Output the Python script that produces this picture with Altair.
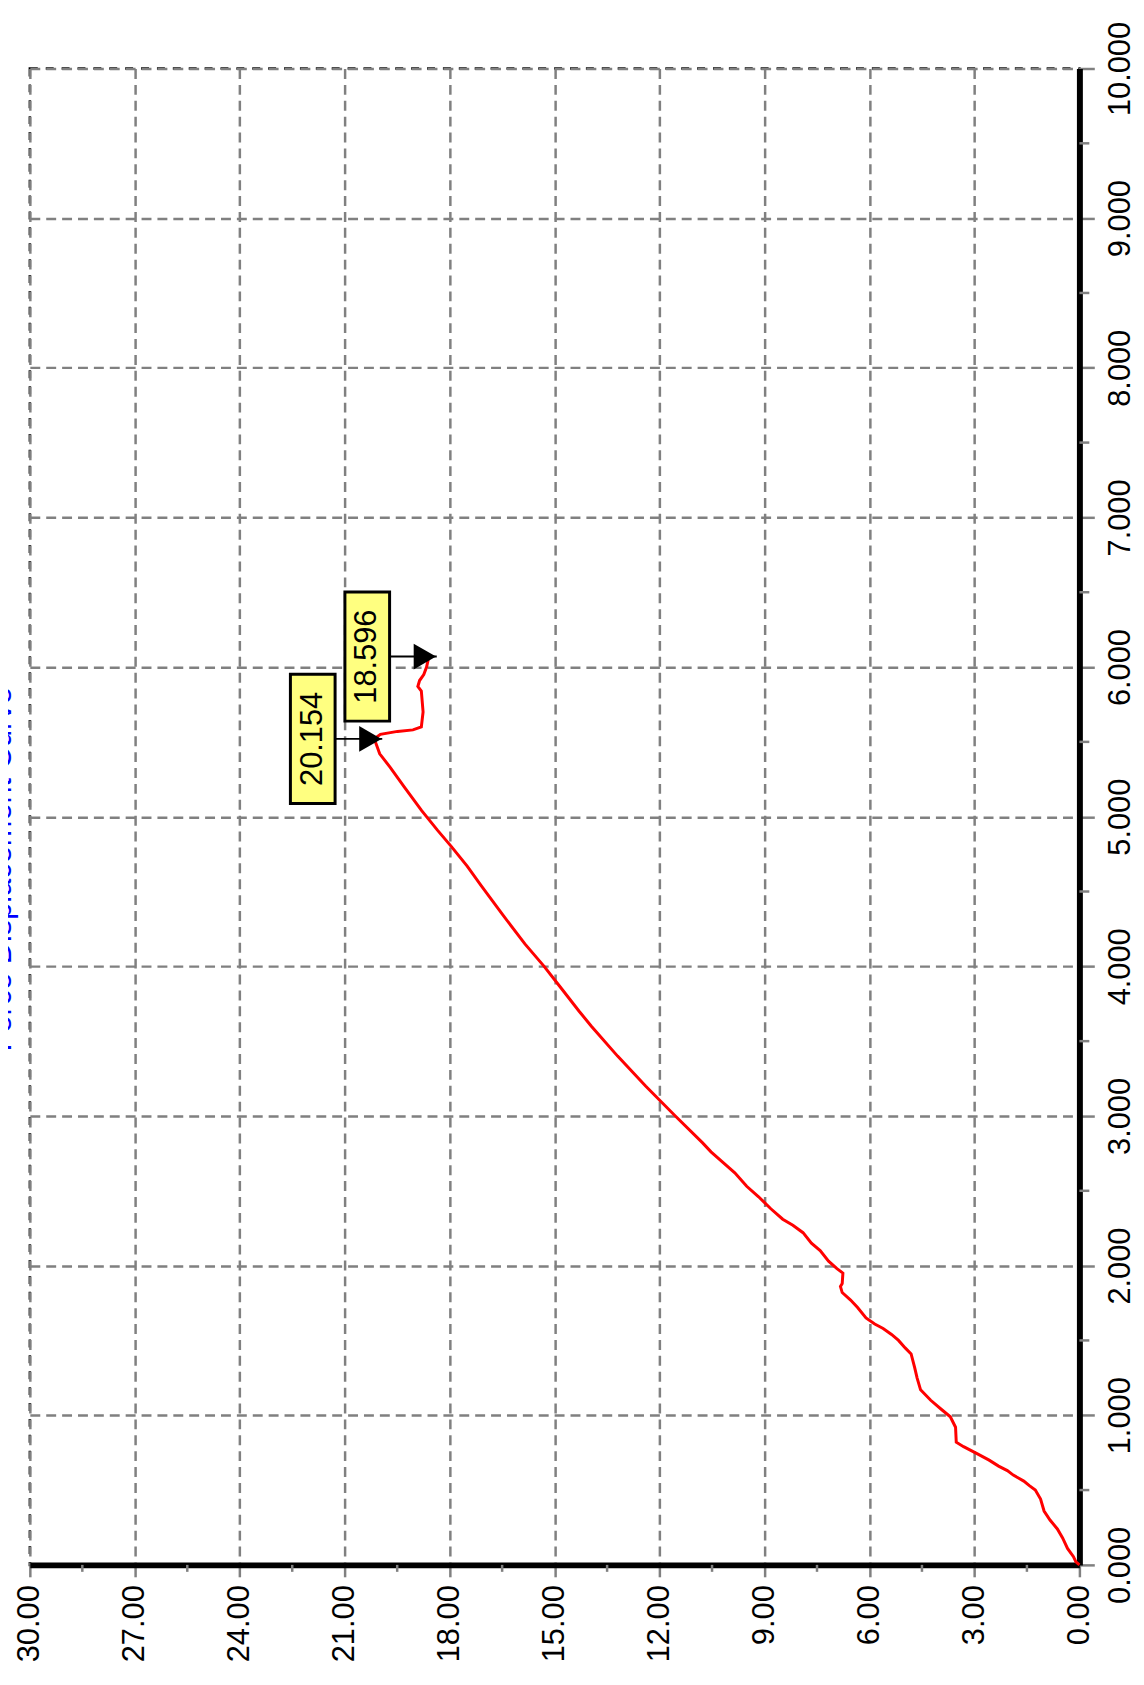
import altair as alt
import pandas as pd

# Force-displacement curve (chart is drawn rotated: force runs right->left, displacement bottom->top)
disp = [0.00, 0.02, 0.055, 0.11, 0.18, 0.24, 0.30, 0.36, 0.44, 0.50,
        0.53, 0.56, 0.60, 0.63, 0.66, 0.70, 0.74, 0.79, 0.82, 0.92,
        0.99, 1.04, 1.10, 1.17, 1.25, 1.32, 1.41, 1.45, 1.50, 1.54,
        1.58, 1.61, 1.65, 1.72, 1.77, 1.82, 1.86, 1.88, 1.95, 1.98,
        2.03, 2.10, 2.15, 2.22, 2.27, 2.31, 2.38, 2.46, 2.53, 2.62,
        2.69, 2.76, 2.82, 3.00, 3.20, 3.40, 3.60, 3.70, 3.85, 4.00,
        4.15, 4.34, 4.54, 4.67, 4.80, 4.91, 5.04, 5.20, 5.33, 5.42,
        5.52, 5.55, 5.57, 5.58, 5.60, 5.70, 5.84, 5.87, 5.91, 5.95,
        6.00, 6.07]
force = [0.00, 0.10, 0.17, 0.34, 0.48, 0.63, 0.84, 1.01, 1.11, 1.26,
         1.43, 1.59, 1.89, 2.06, 2.31, 2.58, 2.90, 3.31, 3.52, 3.54,
         3.69, 3.95, 4.25, 4.54, 4.64, 4.71, 4.81, 4.98, 5.17, 5.37,
         5.61, 5.85, 6.10, 6.34, 6.54, 6.78, 6.83, 6.78, 6.76, 6.93,
         7.17, 7.41, 7.66, 7.90, 8.19, 8.48, 8.82, 9.17, 9.51, 9.85,
         10.19, 10.53, 10.77, 11.55, 12.40, 13.20, 13.95, 14.30, 14.80, 15.30,
         15.85, 16.47, 17.10, 17.50, 17.95, 18.35, 18.80, 19.30, 19.70, 20.00,
         20.154, 19.98, 19.49, 19.05, 18.81, 18.76, 18.81, 18.91, 18.86, 18.74,
         18.66, 18.596]

# annotated points
ann_force = [20.154, 18.596]
ann_disp = [5.52, 6.07]
ann_label = ["20.154", "18.596"]

# axis ticks
force_ticks = [0, 3, 6, 9, 12, 15, 18, 21, 24, 27, 30]
disp_ticks = [0, 1, 2, 3, 4, 5, 6, 7, 8, 9, 10]
force_minor = [1.5, 4.5, 7.5, 10.5, 13.5, 16.5, 19.5, 22.5, 25.5, 28.5]
disp_minor = [0.5, 1.5, 2.5, 3.5, 4.5, 5.5, 6.5, 7.5, 8.5, 9.5]

W, H = 1057, 1507
FONT = "Liberation Sans"
GRAY = "#808080"

curve = pd.DataFrame({"i": list(range(len(disp))), "force": force, "disp": disp})
ann = pd.DataFrame({"force": ann_force, "disp": ann_disp, "label": ann_label})
fminor = pd.DataFrame({"force": force_minor})
dminor = pd.DataFrame({"disp": disp_minor})

xscale = alt.Scale(domain=[0, 30], reverse=True, nice=False, zero=False)
yscale = alt.Scale(domain=[0, 10], nice=False, zero=False)

xaxis = alt.Axis(values=force_ticks, format=".2f", labelAngle=270, orient="bottom",
                 title=None, labelFontSize=31, labelFont=FONT, labelColor="black",
                 tickSize=12, labelPadding=8, labelFlush=False, labelOverlap=False,
                 labelAlign="right", labelBaseline="middle")
yaxis = alt.Axis(values=disp_ticks, format=".3f", labelAngle=270, orient="right",
                 title=None, labelFontSize=31, labelFont=FONT, labelColor="black",
                 tickSize=15, labelPadding=11, labelFlush=False, labelOverlap=False,
                 labelAlign="center", labelBaseline="top")

line = alt.Chart(curve).mark_line(color="#ff0000", strokeWidth=3).encode(
    x=alt.X("force:Q", scale=xscale, axis=xaxis),
    y=alt.Y("disp:Q", scale=yscale, axis=yaxis),
    order="i:Q",
)

xminor_ticks = alt.Chart(fminor).mark_rule(color=GRAY, strokeWidth=2.5).encode(
    x=alt.X("force:Q", scale=xscale),
    y=alt.value(H), y2=alt.value(H + 7),
)
yminor_ticks = alt.Chart(dminor).mark_rule(color=GRAY, strokeWidth=2.5).encode(
    y=alt.Y("disp:Q", scale=yscale),
    x=alt.value(W), x2=alt.value(W + 10),
)

connector = alt.Chart(ann).mark_rule(color="black", strokeWidth=2, xOffset=8, x2Offset=-40).encode(
    x=alt.X("force:Q", scale=xscale),
    x2="force:Q",
    y=alt.Y("disp:Q", scale=yscale),
)
marker = alt.Chart(ann).mark_point(shape="triangle-right", filled=True, color="black",
                                   opacity=1, size=676, xOffset=-4).encode(
    x=alt.X("force:Q", scale=xscale),
    y=alt.Y("disp:Q", scale=yscale),
)
box = alt.Chart(ann).mark_rect(width=45, height=130, xOffset=-62, fill="#ffff80",
                               stroke="black", strokeWidth=3).encode(
    x=alt.X("force:Q", scale=xscale),
    y=alt.Y("disp:Q", scale=yscale),
)
label = alt.Chart(ann).mark_text(angle=270, fontSize=31, font=FONT, color="black",
                                 align="center", baseline="middle", xOffset=-62).encode(
    x=alt.X("force:Q", scale=xscale),
    y=alt.Y("disp:Q", scale=yscale),
    text="label:N",
)

chart = alt.layer(line, xminor_ticks, yminor_ticks, connector, marker, box, label).properties(
    width=W, height=H,
    autosize=alt.AutoSizeParams(type="none"),
    padding={"left": 22, "top": 55, "right": 57, "bottom": 110},
    title=alt.TitleParams("Force Displacement Curve", orient="left", anchor="middle",
                          frame="group", angle=270, baseline="alphabetic", offset=-28,
                          dx=-53, color="#0000ff", fontSize=31, font=FONT,
                          fontWeight="normal"),
).configure_view(
    stroke="black", strokeWidth=2.5, strokeDash=[8, 8]
).configure_axis(
    grid=True, gridColor=GRAY, gridDash=[10, 6], gridWidth=2.5, gridOpacity=1,
    tickColor=GRAY, tickWidth=2.5, domainColor="black", domainWidth=6,
)

chart.save("out.html", embed_options={"renderer": "svg", "actions": False})
